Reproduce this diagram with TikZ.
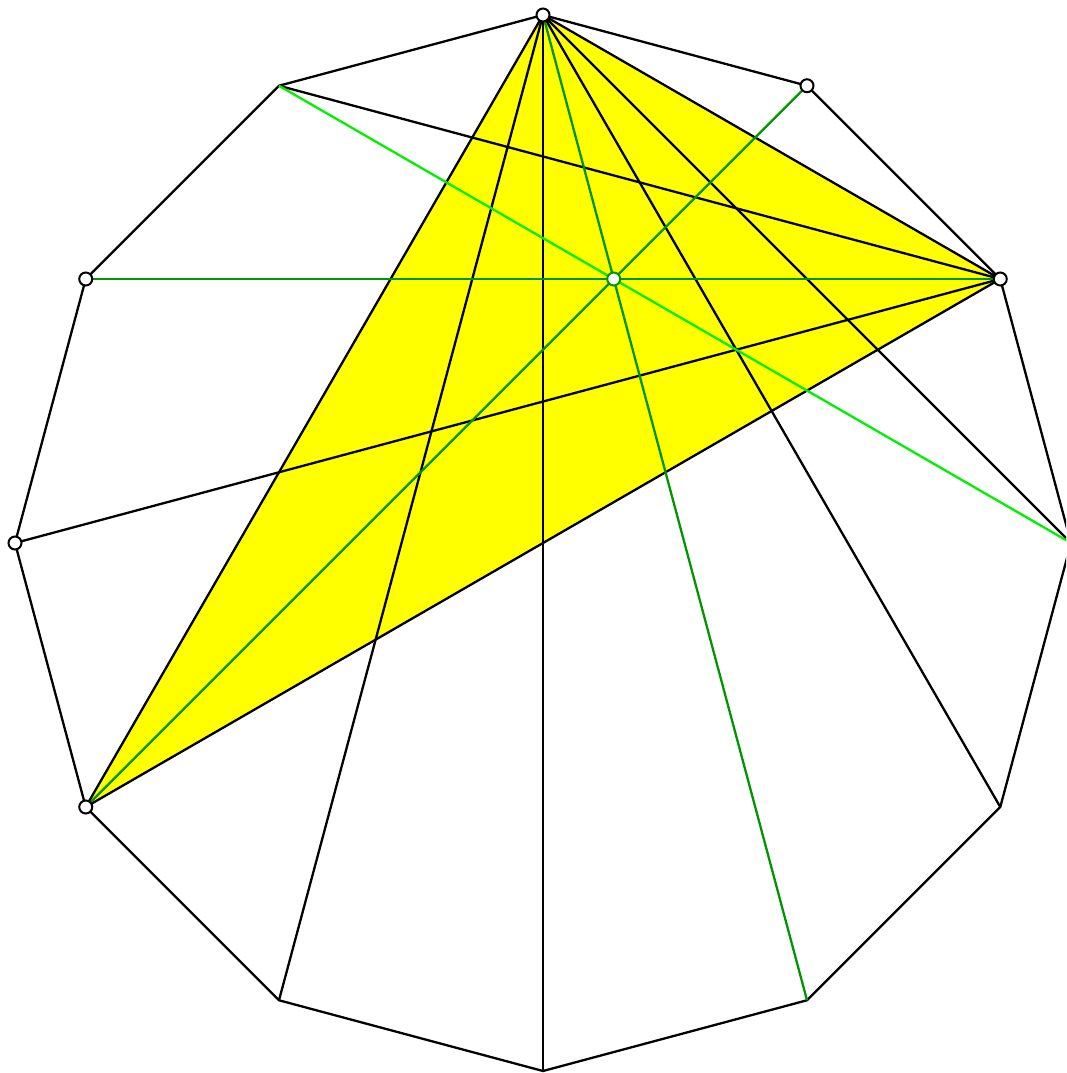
\documentclass[tikz,border=0pt]{standalone}
\usepackage{tikz}
\definecolor{dgreen}{RGB}{0,150,0}
\definecolor{lgreen}{RGB}{0,240,0}
\definecolor{yel}{RGB}{255,255,0}
\tikzset{
  edge/.style={draw=black,line width=2.3pt},
  gedge/.style={draw=dgreen,line width=2.3pt},
  ledge/.style={draw=lgreen,line width=2.3pt},
  dot/.style={circle,draw=black,fill=white,line width=2pt,inner sep=0pt,minimum size=13pt},
  gdot/.style={circle,draw=dgreen,fill=white,line width=2pt,inner sep=0pt,minimum size=13pt}
}
\begin{document}
\begin{tikzpicture}[x=1pt,y=-1pt]
\useasboundingbox (0,0) rectangle (1066,1073);
\clip (0,0) rectangle (1066,1073);
% vertices of the regular 12-gon, center (543,543), radius 528
\foreach \i in {0,...,11}{
  \coordinate (v\i) at ({543+528*cos(90-30*\i)},{543-528*sin(90-30*\i)});
}
\fill[yel] (v0) -- (v2) -- (v8) -- cycle;
\draw[edge] (v0) -- (v1) -- (v2) -- (v3) -- (v4) -- (v5) -- (v6) -- (v7) -- (v8) -- (v9) -- (v10) -- (v11) -- cycle;
\draw[edge] (v0) -- (v8);
\draw[edge] (v0) -- (v7);
\draw[edge] (v0) -- (v6);
\draw[edge] (v0) -- (v4);
\draw[edge] (v0) -- (v3);
\draw[edge] (v0) -- (v2);
\draw[edge] (v2) -- (v11);
\draw[edge] (v2) -- (v9);
\draw[edge] (v2) -- (v8);
\draw[ledge] (v11) -- (v3);
\draw[gedge] (v10) -- (v2);
\draw[gedge] (v1) -- (v8);
\draw[gedge] (v0) -- (v5);
\coordinate (p) at (intersection of v10--v2 and v0--v5);
\node[dot] (n0) at (v0) {};
\node[dot] (n1) at (v1) {};
\node[dot] (n2) at (v2) {};
\node[dot] (n10) at (v10) {};
\node[dot] (n9) at (v9) {};
\node[dot] (n8) at (v8) {};
\node[gdot] (np) at (p) {};
\end{tikzpicture}
\end{document}
